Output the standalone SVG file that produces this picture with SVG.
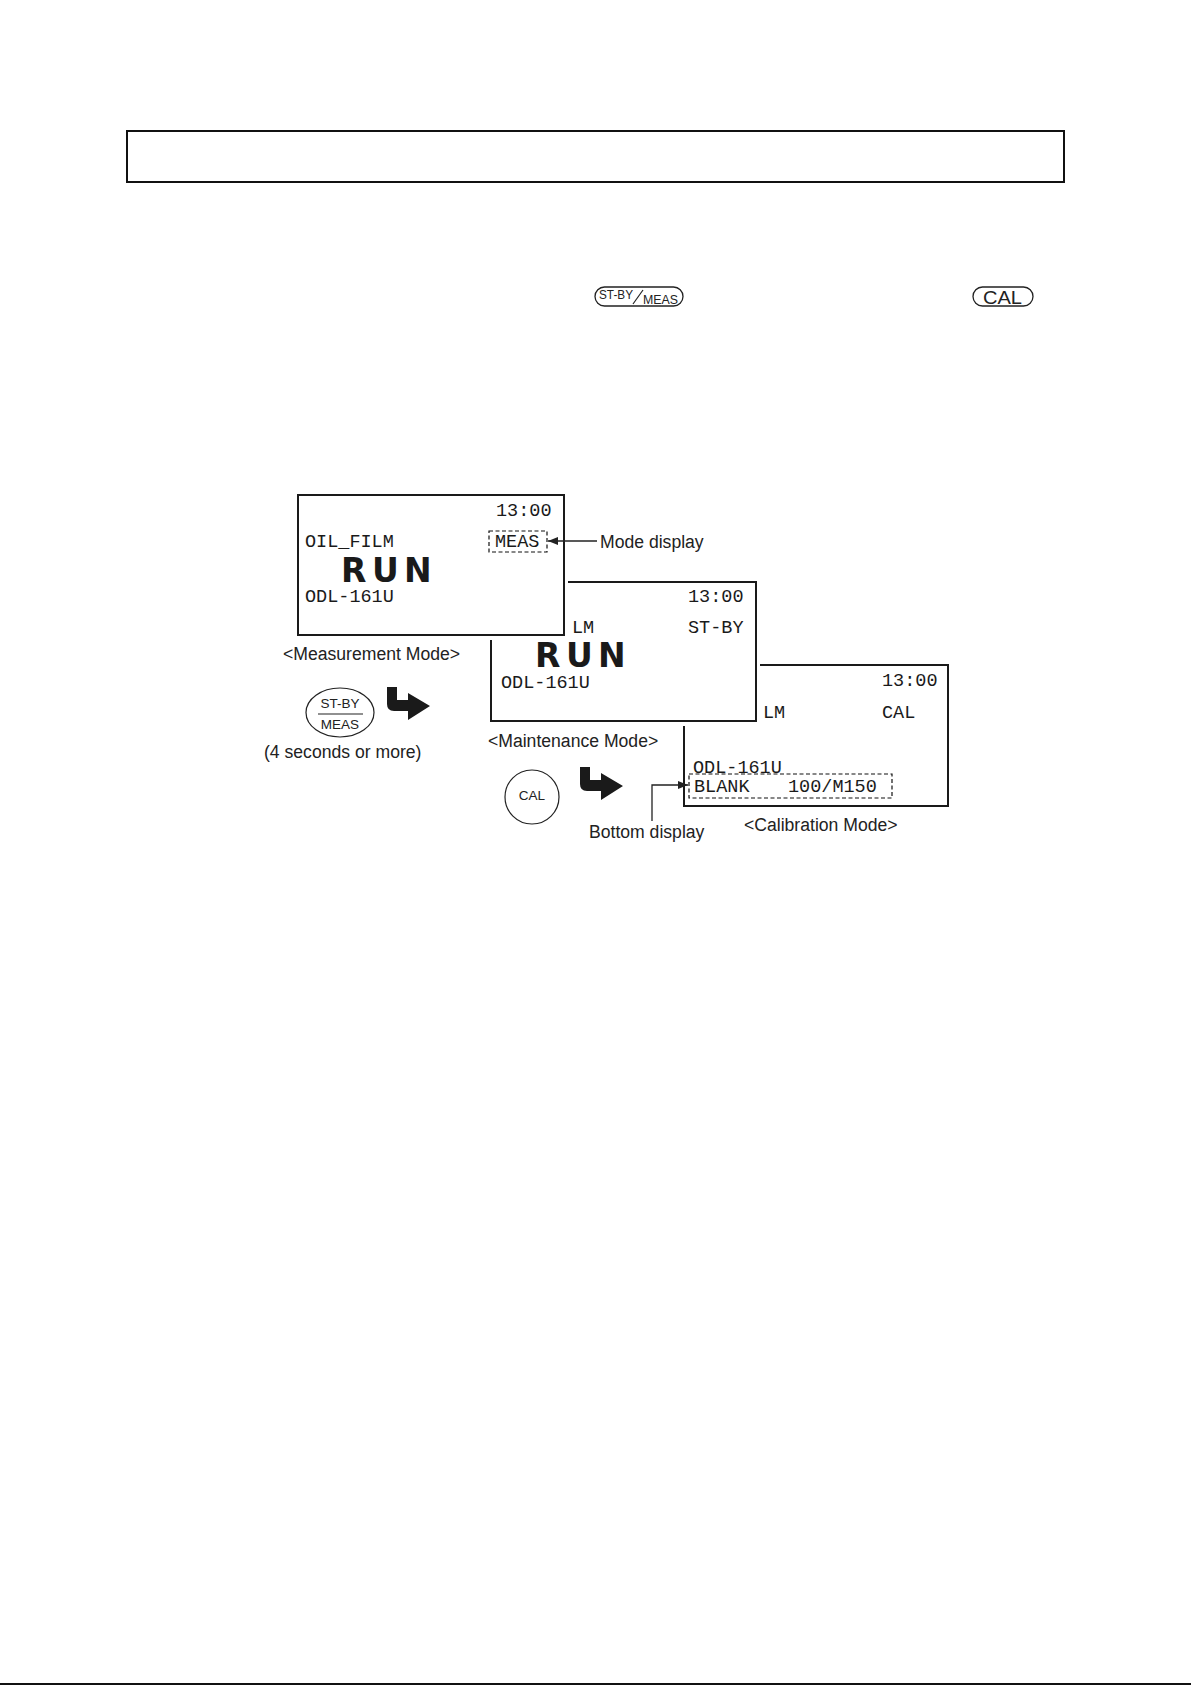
<svg xmlns="http://www.w3.org/2000/svg" width="1191" height="1685" viewBox="0 0 1191 1685">
<style>
.box{fill:#fff;stroke:#1a1a1a;stroke-width:2}
.mask{fill:#fff;stroke:none}
.lcd{font-family:"Liberation Mono","DejaVu Sans Mono",monospace;font-size:18.5px;fill:#1a1a1a}
.run{font-family:"DejaVu Sans","Liberation Sans",sans-serif;font-weight:bold;font-size:33px;fill:#1a1a1a}
.lbl{font-family:"Liberation Sans",Arial,sans-serif;font-size:17.6px;fill:#222}
.btn{font-family:"Liberation Sans",Arial,sans-serif;fill:#222}
.dash{fill:none;stroke:#111;stroke-width:1.2;stroke-dasharray:4 2.5}
.ln{fill:none;stroke:#222;stroke-width:1.3}
.thick{fill:#1a1a1a}
</style>
<defs>
<marker id="ah" viewBox="0 0 10 8" refX="10" refY="4" markerWidth="10" markerHeight="8" markerUnits="userSpaceOnUse" orient="auto">
<path d="M0,0 L10,4 L0,8 Z" fill="#222"/>
</marker>
<path id="turn" d="M0,0 L10,0 L10,13 L21,13 L21,6 L43,19 L21,33 L21,24 L7,24 Q0,24 0,17 Z"/>
</defs>
<rect width="1191" height="1685" fill="#fff"/>

<g id="title-box">
<rect x="127" y="131" width="937" height="51" fill="none" stroke="#111" stroke-width="2"/>
</g>

<g id="key-stby-meas">
<rect x="595" y="287" width="88" height="19" rx="9.5" fill="none" stroke="#222" stroke-width="1.3"/>
<text class="btn" x="599" y="299" font-size="12.5" textLength="34" lengthAdjust="spacingAndGlyphs">ST-BY</text>
<line x1="633" y1="304" x2="643" y2="290" stroke="#222" stroke-width="1.2"/>
<text class="btn" x="643" y="304" font-size="12" textLength="35" lengthAdjust="spacingAndGlyphs">MEAS</text>
</g>

<g id="key-cal">
<rect x="973" y="287" width="60" height="19" rx="9.5" fill="none" stroke="#222" stroke-width="1.3"/>
<text class="btn" x="983" y="303.5" font-size="18" textLength="39" lengthAdjust="spacingAndGlyphs">CAL</text>
</g>

<g id="calibration-screen">
<rect class="box" x="684" y="665" width="264" height="141"/>
<text class="lcd" x="882" y="686">13:00</text>
<text class="lcd" x="763" y="718">LM</text>
<text class="lcd" x="882" y="718">CAL</text>
<text class="lcd" x="693" y="773">ODL-161U</text>
<rect class="dash" x="689" y="774" width="203" height="24"/>
<text class="lcd" x="694" y="792"><tspan>BLANK</tspan><tspan x="788">100/M150</tspan></text>
<text class="lbl" x="744" y="831">&lt;Calibration Mode&gt;</text>
</g>

<g id="maintenance-screen">
<rect class="mask" x="487" y="577" width="273" height="149"/>
<rect class="box" x="491" y="582" width="265" height="139"/>
<text class="lcd" x="688" y="602">13:00</text>
<text class="lcd" x="572" y="633">LM</text>
<text class="lcd" x="688" y="633">ST-BY</text>
<text class="run" y="667"><tspan x="535">R</tspan><tspan x="566">U</tspan><tspan x="598">N</tspan></text>
<text class="lcd" x="501" y="688">ODL-161U</text>
<text class="lbl" x="488" y="747">&lt;Maintenance Mode&gt;</text>
</g>

<g id="measurement-screen">
<rect class="mask" x="293" y="490" width="275" height="150"/>
<rect class="box" x="298" y="495" width="266" height="140"/>
<text class="lcd" x="496" y="516">13:00</text>
<text class="lcd" x="305" y="547">OIL_FILM</text>
<rect class="dash" x="489" y="531" width="58" height="21"/>
<text class="lcd" x="495" y="547">MEAS</text>
<text class="run" y="582"><tspan x="341">R</tspan><tspan x="372">U</tspan><tspan x="404">N</tspan></text>
<text class="lcd" x="305" y="602">ODL-161U</text>
<text class="lbl" x="283" y="660">&lt;Measurement Mode&gt;</text>
</g>

<g id="stby-meas-button">
<ellipse cx="340" cy="712.5" rx="34" ry="24.5" fill="none" stroke="#222" stroke-width="1.2"/>
<text class="btn" x="340" y="708" font-size="13.5" text-anchor="middle">ST-BY</text>
<line x1="318" y1="714" x2="363" y2="714" stroke="#222" stroke-width="1.2"/>
<text class="btn" x="340" y="729" font-size="13.5" text-anchor="middle">MEAS</text>
<text class="lbl" x="264" y="758">(4 seconds or more)</text>
</g>

<g id="cal-button">
<circle cx="532" cy="797" r="27" fill="none" stroke="#222" stroke-width="1.2"/>
<text class="btn" x="532" y="800" font-size="13.5" text-anchor="middle">CAL</text>
</g>

<g id="connectors">
<use href="#turn" class="thick" x="387" y="687"/>
<use href="#turn" class="thick" x="580" y="767"/>
<line class="ln" x1="597" y1="541" x2="548" y2="541" marker-end="url(#ah)"/>
<polyline class="ln" points="652,821 652,785 688,785" marker-end="url(#ah)"/>
</g>

<g id="labels">
<text class="lbl" x="600" y="548">Mode display</text>
<text class="lbl" x="589" y="838">Bottom display</text>
</g>

<line x1="0" y1="1684" x2="1191" y2="1684" stroke="#111" stroke-width="2"/>
</svg>
